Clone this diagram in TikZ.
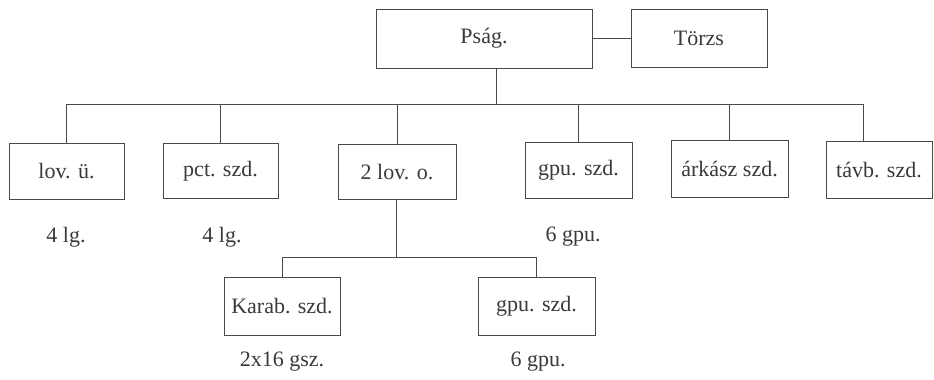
\documentclass[tikz,border=0pt]{standalone}
\usepackage{fontspec}
\setmainfont{Liberation Serif}
\definecolor{ink}{HTML}{3A3A3A}
\definecolor{lineink}{HTML}{4A4A4A}
\begin{document}
\begin{tikzpicture}[x=1pt,y=-1pt,
  box/.style={draw=lineink,line width=0.9pt,rectangle,inner sep=0pt,text=ink,
    font=\fontsize{22}{24}\selectfont},
  lab/.style={inner sep=0pt,text=ink,font=\fontsize{22}{24}\selectfont},
  conn/.style={draw=lineink,line width=0.9pt}]
\useasboundingbox[fill=white] (0,0) rectangle (934,380);
% nodes
\node[box,minimum width=216pt,minimum height=59pt] (P) at (484,38.5) {Pság.};
\node[box,minimum width=136pt,minimum height=58pt] (T) at (699,38.5) {Törzs};
\node[box,minimum width=115pt,minimum height=56pt] (lov) at (66.5,171) {lov. ü.};
\node[box,minimum width=115pt,minimum height=55pt] (pct) at (220.5,171) {pct. szd.};
\node[box,minimum width=118pt,minimum height=55pt] (lovo) at (397,172) {2 lov. o.};
\node[box,minimum width=107pt,minimum height=56pt] (gpu) at (578.5,170) {gpu. szd.};
\node[box,minimum width=117pt,minimum height=57pt] (ark) at (729.5,169) {árkász szd.};
\node[box,minimum width=106pt,minimum height=57pt] (tavb) at (879,170) {távb. szd.};
\node[box,minimum width=116pt,minimum height=58pt] (karab) at (282,306) {Karab. szd.};
\node[box,minimum width=117pt,minimum height=58pt] (gpub) at (536.5,306) {gpu. szd.};
% labels
\node[lab] (l1) at (66,237) {4 lg.};
\node[lab] (l2) at (222,237) {4 lg.};
\node[lab] (l3) at (573,237) {6 gpu.};
\node[lab] (l4) at (282,362) {2x16 gsz.};
\node[lab] (l5) at (538,362) {6 gpu.};
% coordinates
\coordinate (b0) at (496,104);
\coordinate (d6) at (863,104);
\coordinate (s0) at (396,257);
% connectors
\draw[conn] (P.east) -- (T.west);
\draw[conn] (b0 |- P.south) -- (b0);
\draw[conn] (lov.north |- b0) -- (d6);
\draw[conn] (lov.north) -- (lov.north |- b0);
\draw[conn] (pct.north) -- (pct.north |- b0);
\draw[conn] (lovo.north) -- (lovo.north |- b0);
\draw[conn] (gpu.north) -- (gpu.north |- b0);
\draw[conn] (ark.north) -- (ark.north |- b0);
\draw[conn] (d6 |- tavb.north) -- (d6);
\draw[conn] (s0 |- lovo.south) -- (s0);
\draw[conn] (karab.north |- s0) -- (gpub.north |- s0);
\draw[conn] (karab.north) -- (karab.north |- s0);
\draw[conn] (gpub.north) -- (gpub.north |- s0);
\end{tikzpicture}
\end{document}
